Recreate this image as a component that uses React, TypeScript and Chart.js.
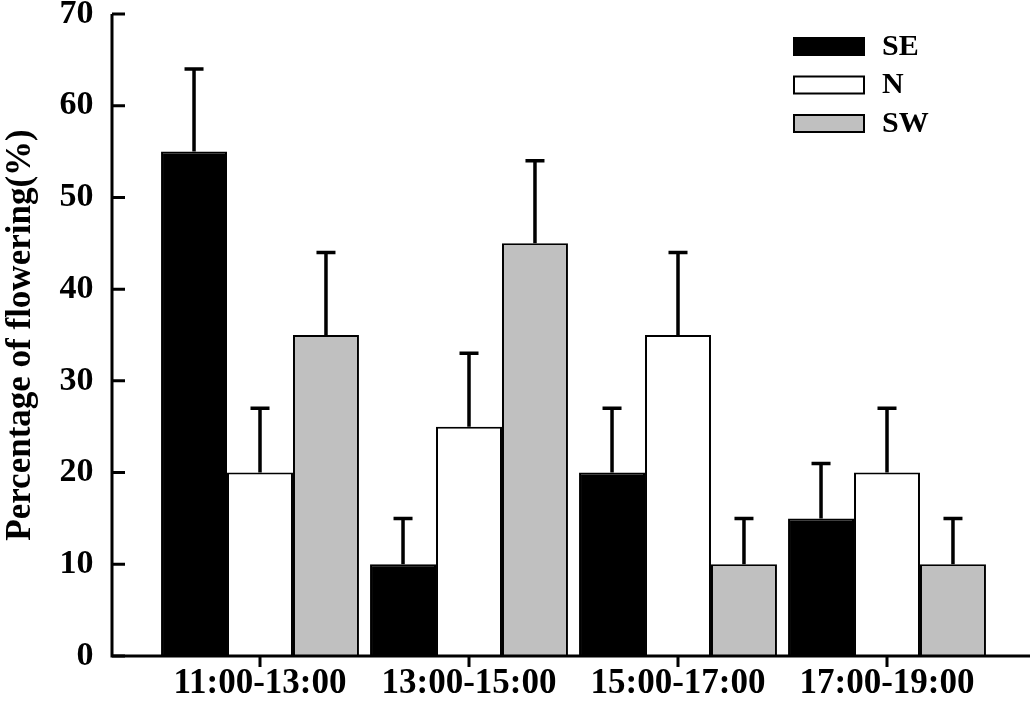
import { useEffect, useRef } from "react";
import { Chart, registerables } from "chart.js";

Chart.register(...registerables);

const categories = ["11:00-13:00", "13:00-15:00", "15:00-17:00", "17:00-19:00"];
const seriesNames = ["SE", "N", "SW"];
const seValues = [55, 10, 20, 15];
const nValues = [20, 25, 35, 20];
const swValues = [35, 45, 10, 10];
// upper error (standard error) for each bar
const seErrors = [9, 5, 7, 6];
const nErrors = [7, 8, 9, 7];
const swErrors = [9, 9, 5, 5];
const yTicks = [0, 10, 20, 30, 40, 50, 60, 70];

const FONT = "'Liberation Serif', 'Times New Roman', serif";

const axesPlugin = {
  id: "sciAxes",
  afterDatasetsDraw(chart: any) {
    const { ctx, scales } = chart;
    const y = scales.y;
    const x = scales.x;
    const axisX = 112;
    const axisY = y.getPixelForValue(0);
    ctx.save();
    ctx.strokeStyle = "#000";
    ctx.lineWidth = 3;
    ctx.lineCap = "butt";
    ctx.beginPath();
    ctx.moveTo(axisX, y.getPixelForValue(70));
    ctx.lineTo(axisX, axisY + 1.5);
    ctx.moveTo(axisX - 1.5, axisY);
    ctx.lineTo(1030, axisY);
    ctx.stroke();
    ctx.beginPath();
    y.ticks.forEach((t: any) => {
      const py = y.getPixelForValue(t.value);
      ctx.moveTo(axisX, py);
      ctx.lineTo(axisX + 13, py);
    });
    categories.forEach((_, i) => {
      const px = x.getPixelForValue(i);
      ctx.moveTo(px, axisY);
      ctx.lineTo(px, axisY + 11);
    });
    ctx.stroke();
    ctx.restore();
  },
};

const errorBarPlugin = {
  id: "errorBars",
  afterDatasetsDraw(chart: any) {
    const { ctx, scales } = chart;
    ctx.save();
    ctx.strokeStyle = "#000";
    ctx.lineWidth = 3.5;
    chart.data.datasets.forEach((ds: any, di: number) => {
      const meta = chart.getDatasetMeta(di);
      meta.data.forEach((bar: any, i: number) => {
        const top = scales.y.getPixelForValue(ds.data[i] + ds.errors[i]);
        ctx.beginPath();
        ctx.moveTo(bar.x, bar.y);
        ctx.lineTo(bar.x, top);
        ctx.moveTo(bar.x - 9.5, top);
        ctx.lineTo(bar.x + 9.5, top);
        ctx.stroke();
      });
    });
    ctx.restore();
  },
};

const legendPlugin = {
  id: "boxLegend",
  afterDraw(chart: any) {
    const { ctx } = chart;
    ctx.save();
    ctx.font = `bold 30px ${FONT}`;
    ctx.textBaseline = "middle";
    ctx.textAlign = "left";
    chart.data.datasets.forEach((ds: any, i: number) => {
      const top = 37 + i * 38.5;
      ctx.fillStyle = ds.backgroundColor;
      ctx.fillRect(793, top, 72, 19);
      ctx.strokeStyle = "#000";
      ctx.lineWidth = 2;
      ctx.strokeRect(794, top + 1, 70, 17);
      ctx.fillStyle = "#000";
      ctx.fillText(ds.label, 882, top + 10);
    });
    ctx.restore();
  },
};

export default function App() {
  const canvasRef = useRef<HTMLCanvasElement>(null);
  const chartRef = useRef<Chart | null>(null);

  useEffect(() => {
    document.body.style.margin = "0";
    if (!canvasRef.current) return;
    if (chartRef.current) {
      chartRef.current.destroy();
    }
    const ctx = canvasRef.current.getContext("2d");
    if (!ctx) return;

    const colors = ["#000000", "#ffffff", "#c0c0c0"];
    const values = [seValues, nValues, swValues];
    const errors = [seErrors, nErrors, swErrors];

    const datasets: any[] = seriesNames.map((name, i) => ({
      label: name,
      data: values[i],
      errors: errors[i],
      backgroundColor: colors[i],
      borderColor: "#000",
      borderWidth: 2,
      categoryPercentage: 0.947,
      barPercentage: 1,
    }));

    chartRef.current = new Chart(ctx, {
      type: "bar",
      data: { labels: categories, datasets },
      options: {
        animation: false,
        responsive: true,
        maintainAspectRatio: false,
        layout: { padding: { top: 14, right: 41.5, left: 0, bottom: 0 } },
        plugins: {
          legend: { display: false },
          tooltip: { enabled: false },
        },
        scales: {
          x: {
            grid: { display: false, drawTicks: false },
            border: { display: false },
            ticks: {
              color: "#000",
              padding: 7,
              maxRotation: 0,
              font: { family: FONT, size: 35, weight: "bold" },
            },
            afterFit(scale: any) {
              scale.height = 53;
              scale.paddingLeft = 0;
              scale.paddingRight = 0;
            },
          },
          y: {
            min: 0,
            max: 70,
            afterBuildTicks(scale: any) {
              scale.ticks = yTicks.map((v) => ({ value: v }));
            },
            grid: { display: false, drawTicks: false },
            border: { display: false },
            ticks: {
              color: "#000",
              padding: 62,
              font: { family: FONT, size: 34, weight: "bold" },
            },
            title: {
              display: true,
              text: "Percentage of flowering(%)",
              color: "#000",
              padding: { top: 0, bottom: 0 },
              font: { family: FONT, size: 35, weight: "bold", lineHeight: 1.2 },
            },
            afterFit(scale: any) {
              scale.width = 155.5;
              scale.paddingTop = 0;
              scale.paddingBottom = 0;
            },
          },
        },
      },
      plugins: [axesPlugin, errorBarPlugin, legendPlugin],
    });

    return () => {
      if (chartRef.current) {
        chartRef.current.destroy();
        chartRef.current = null;
      }
    };
  }, []);

  return (
    <div style={{ width: "1033px", height: "709px", position: "relative" }}>
      <canvas ref={canvasRef}></canvas>
    </div>
  );
}
